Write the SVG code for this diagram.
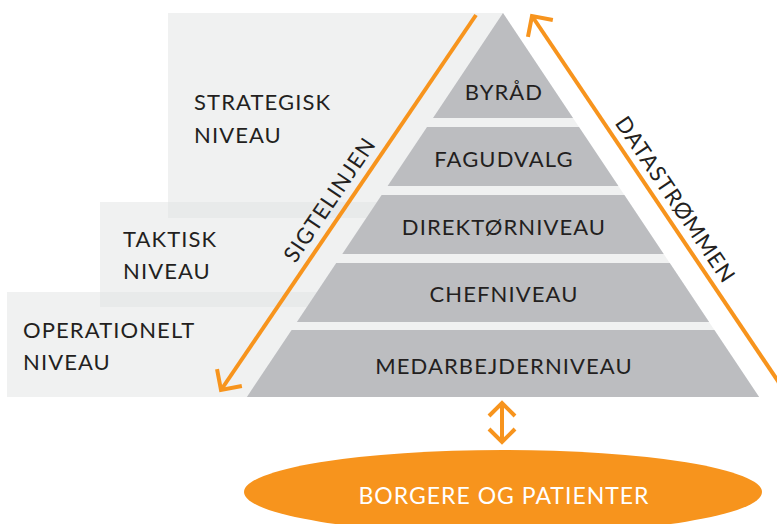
<svg xmlns="http://www.w3.org/2000/svg" width="777" height="524" viewBox="0 0 777 524">
  <style>
    .band { fill: #dfe1e1; opacity: 0.47; }
    .back { fill: #f0f1f1; }
    .tier { fill: #bcbdc0; }
    .lbl { font-family: Lato, "Open Sans", "Liberation Sans", sans-serif; font-size: 22px; letter-spacing: 1.1px; fill: #231f20; }
    .mid { text-anchor: middle; }
    .flow { fill: none; stroke: #f7941d; stroke-width: 4; }
    .oval { fill: #f7941d; }
    .oval-txt { font-family: Lato, "Open Sans", "Liberation Sans", sans-serif; font-size: 23px; letter-spacing: 1px; fill: #ffffff; text-anchor: middle; }
  </style>
  <defs>
    <marker id="chev" markerUnits="userSpaceOnUse" viewBox="-18 -18 22 36" refX="0" refY="0" markerWidth="22" markerHeight="36" orient="auto-start-reverse" overflow="visible">
      <path d="M-15,-15 L0,0 L-15,15" fill="none" stroke="#f7941d" stroke-width="4"/>
    </marker>
    <marker id="chev-s" markerUnits="userSpaceOnUse" viewBox="-16 -16 20 32" refX="0" refY="0" markerWidth="20" markerHeight="32" orient="auto-start-reverse" overflow="visible">
      <path d="M-13,-13 L0,0 L-13,13" fill="none" stroke="#f7941d" stroke-width="4"/>
    </marker>
  </defs>

  <!-- level bands -->
  <g id="level-strategic">
    <rect class="band" x="168" y="13" width="335" height="205"/>
    <text class="lbl" x="194" y="110">STRATEGISK</text>
    <text class="lbl" x="194" y="143">NIVEAU</text>
  </g>
  <g id="level-tactical">
    <rect class="band" x="100" y="202" width="403" height="105"/>
    <text class="lbl" x="123" y="247">TAKTISK</text>
    <text class="lbl" x="123" y="279">NIVEAU</text>
  </g>
  <g id="level-operational">
    <rect class="band" x="7" y="292" width="496" height="105"/>
    <text class="lbl" x="23" y="338">OPERATIONELT</text>
    <text class="lbl" x="23" y="370">NIVEAU</text>
  </g>

  <!-- pyramid backdrop -->
  <polygon class="back" points="503,13 759.1,397 246.9,397"/>

  <g id="tier-byraad">
    <polygon class="tier" points="503,13 573,118 433,118"/>
    <text class="lbl mid" x="504" y="100">BYRÅD</text>
  </g>
  <g id="tier-fagudvalg">
    <polygon class="tier" points="427,127 579,127 618.4,186 387.6,186"/>
    <text class="lbl mid" x="504" y="167">FAGUDVALG</text>
  </g>
  <g id="tier-direktoer">
    <polygon class="tier" points="381.6,195 624.4,195 663.7,254 342.3,254"/>
    <text class="lbl mid" x="504" y="235">DIREKTØRNIVEAU</text>
  </g>
  <g id="tier-chef">
    <polygon class="tier" points="336.2,263 669.8,263 709.1,322 296.9,322"/>
    <text class="lbl mid" x="504" y="302">CHEFNIVEAU</text>
  </g>
  <g id="tier-medarbejder">
    <polygon class="tier" points="291.6,330 714.4,330 759.1,397 246.9,397"/>
    <text class="lbl mid" x="504" y="374">MEDARBEJDERNIVEAU</text>
  </g>

  <g id="citizens">
    <ellipse class="oval" cx="503" cy="492" rx="259" ry="42"/>
    <text class="oval-txt" x="504" y="504">BORGERE OG PATIENTER</text>
  </g>

  <!-- flows -->
  <g id="connectors">
    <line class="flow" x1="476" y1="15" x2="221" y2="390" marker-end="url(#chev)"/>
    <line class="flow" x1="790" y1="399" x2="532" y2="16" marker-end="url(#chev)"/>
    <line class="flow" x1="502" y1="403" x2="502" y2="442" marker-start="url(#chev-s)" marker-end="url(#chev-s)"/>
    <text class="lbl mid" transform="translate(336,204) rotate(-55.8)">SIGTELINJEN</text>
    <text class="lbl mid" transform="translate(669,204) rotate(55.9)">DATASTRØMMEN</text>
  </g>
</svg>
